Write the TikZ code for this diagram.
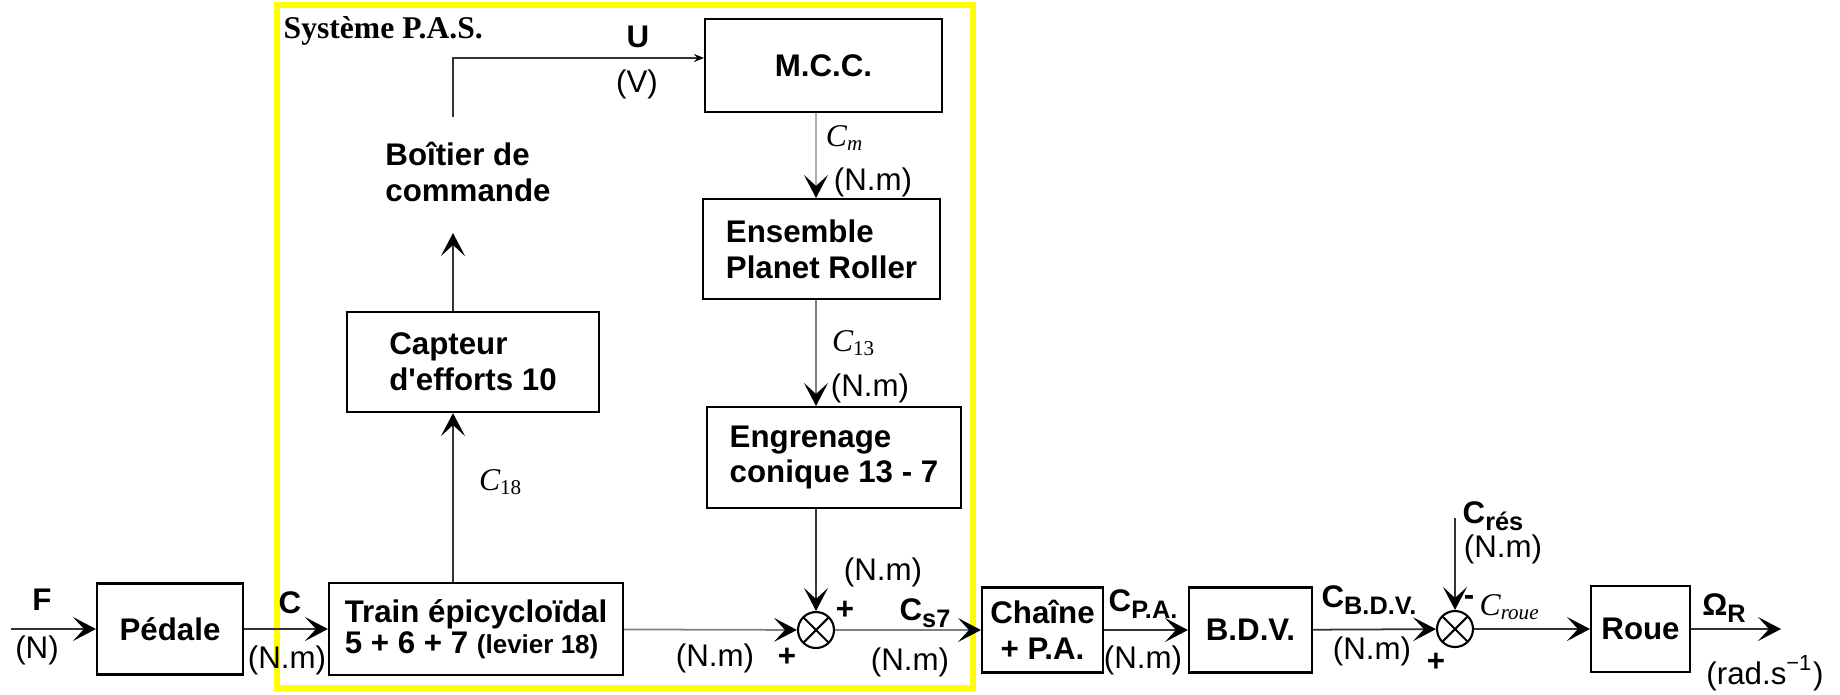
\documentclass[tikz,border=0pt]{standalone}
\usepackage{fontspec}
\setmainfont{Liberation Sans}
\newfontfamily\serifpas{Liberation Serif}
\usepackage{tikz}
\usetikzlibrary{arrows.meta,positioning,calc}
\definecolor{jaunepas}{HTML}{FFFF00}
\definecolor{traitfonce}{HTML}{333333}
\definecolor{traitgris}{HTML}{808080}
\definecolor{traitclair}{HTML}{B0B0B0}
\newcommand{\indice}[1]{\raisebox{-0.45ex}{\fontsize{7.2}{8}\selectfont #1}}
\tikzset{
  bloc/.style={rectangle, draw=black, line width=0.6pt, align=#1, inner sep=0pt,
               font=\fontsize{8.9}{10.2}\selectfont\bfseries},
  bloc/.default=left,
  nom/.style={inner sep=0pt, font=\fontsize{8.9}{10}\selectfont\bfseries},
  unite/.style={inner sep=0pt, font=\fontsize{8.9}{10}\selectfont},
  couple/.style={inner sep=0pt, font=\fontsize{9}{10}\selectfont\serifpas\itshape},
  sommateur/.style={circle, draw=black, line width=0.6pt, minimum size=3.6mm, inner sep=0pt,
               path picture={\draw[line width=0.6pt]
                 (path picture bounding box.north west) -- (path picture bounding box.south east)
                 (path picture bounding box.south west) -- (path picture bounding box.north east);}},
  arr/.style={-{Stealth[length=2.3mm, width=2.4mm, inset=1.1mm, color=black]}, line width=0.5pt, draw=#1},
  arr/.default=traitfonce,
  arrpetit/.style={-{Stealth[length=1mm, width=0.8mm, inset=0.35mm, color=black]}, line width=0.5pt, draw=traitfonce},
  cadre/.style={draw=jaunepas, line width=1.8pt},
}
\begin{document}
\begin{tikzpicture}[x=0.1mm, y=-0.1mm]
  \useasboundingbox (0,0) rectangle (1840,694);
  \draw[cadre] (277,5) rectangle (973,688);
  \node[inner sep=0pt, anchor=west, font=\fontsize{9}{10}\selectfont\serifpas\bfseries] (titre) at (283,31) {Système P.A.S.};

  % chaine directe
  \node[bloc=center, minimum width=14.6mm, minimum height=9.1mm] (pedale) at (170,629) {Pédale};
  \node[bloc, minimum width=29.4mm, minimum height=9.2mm] (train) at (476,629)
    {Train épicycloïdal\\[-1.5pt]5 + 6 + 7 {\fontsize{7.4}{8}\selectfont(levier 18)}};
  \node[sommateur] (som1) at (816,630) {};
  \node[bloc=center, minimum width=12.1mm, minimum height=8.5mm] (chaine) at (1042.5,630) {Chaîne\\+ P.A.};
  \node[bloc=center, minimum width=12.3mm, minimum height=8.5mm] (bdv) at (1250.5,630) {B.D.V.};
  \node[sommateur] (som2) at (1455,629) {};
  \node[bloc=center, minimum width=9.9mm, minimum height=8.6mm] (roue) at (1640.5,629) {Roue};

  % boucle d'assistance
  \node[bloc, minimum width=25.2mm, minimum height=10mm] (capteur) at (473,362) {Capteur\\d\textquotesingle efforts 10};
  \node[inner sep=0pt, align=left, font=\fontsize{8.9}{10.2}\selectfont\bfseries] (boitier) at (468,172) {Boîtier de\\commande};
  \node[bloc=center, minimum width=23.7mm, minimum height=9.3mm] (mcc) at (823.5,65.5) {M.C.C.};
  \node[bloc, minimum width=23.7mm, minimum height=10mm] (ensemble) at (821.5,249) {Ensemble\\Planet Roller};
  \node[bloc, minimum width=25.4mm, minimum height=10.1mm] (engrenage) at (834,457.5) {Engrenage\\conique 13 - 7};

  \coordinate (colG) at (453,0);
  \coordinate (colD) at (816,0);
  \coordinate (boitierbas) at (453,233);
  \coordinate (boitierhaut) at (453,117);
  \coordinate (ligneU) at (0,58);
  \coordinate (entreeF) at (11,629);
  \coordinate (entreeCres) at (1455,518);
  \coordinate (sortie) at (1781,629);

  \draw[arr] (entreeF) -- (pedale);
  \draw[arr] (pedale) -- (train);
  \draw[arr=traitgris] (train) -- (som1);
  \draw[arr] (train.north -| colG) -- (capteur.south -| colG);
  \draw[arr] (capteur.north -| colG) -- (boitierbas);
  \draw[arrpetit] (boitierhaut) |- (mcc.west |- ligneU);
  \draw[arr=traitclair] (mcc.south -| colD) -- (ensemble.north -| colD);
  \draw[arr=traitgris] (ensemble.south -| colD) -- (engrenage.north -| colD);
  \draw[arr] (engrenage.south -| som1) -- (som1);
  \draw[arr=traitgris] (som1) -- (chaine);
  \draw[arr] (chaine) -- (bdv);
  \draw[arr] (bdv) -- (som2);
  \draw[arr] (entreeCres) -- (som2);
  \draw[arr] (som2) -- (roue);
  \draw[arr] (roue) -- (sortie);

  % grandeurs
  \node[nom] (nF) at (42,600) {F};
  \node[unite] (uF) at (37,650) {(N)};
  \node[nom] (nC) at (290,603) {C};
  \node[unite] (uC) at (287,660) {(N.m)};
  \node[couple] (nC18) at (501,482) {C\textsubscript{\upshape 18}};
  \node[nom] (nU) at (638,37) {U};
  \node[unite] (uU) at (637,84) {(V)};
  \node[couple] (nCm) at (845,138) {C\textsubscript{m}};
  \node[unite] (uCm) at (873,182) {(N.m)};
  \node[couple] (nC13) at (854,343) {C\textsubscript{\upshape 13}};
  \node[unite] (uC13) at (870,388) {(N.m)};
  \node[unite] (uC7) at (883,572) {(N.m)};
  \node[nom] (p1) at (845,610) {+};
  \node[unite] (uCt) at (715,658) {(N.m)};
  \node[nom] (p2) at (787,657) {+};
  \node[nom] (nCs7) at (925,613) {C\indice{s7}};
  \node[unite] (uCs7) at (910,662) {(N.m)};
  \node[nom] (nCpa) at (1143,604) {C\indice{P.A.}};
  \node[unite] (uCpa) at (1143,660) {(N.m)};
  \node[nom] (nCbdv) at (1369,600) {C\indice{B.D.V.}};
  \node[unite] (uCbdv) at (1372,651) {(N.m)};
  \node[nom] (nCres) at (1493,516) {C\indice{rés}};
  \node[unite] (uCres) at (1503,549) {(N.m)};
  \node[nom] (m3) at (1469,600) {-};
  \node[couple] (nCroue) at (1510,607) {C\textsubscript{roue}};
  \node[nom] (p3) at (1436,662) {+};
  \node[nom] (nOm) at (1724,608) {Ω\indice{R}};
  \node[unite] (uOm) at (1765,673) {(rad.s\textsuperscript{−1})};
\end{tikzpicture}
\end{document}
